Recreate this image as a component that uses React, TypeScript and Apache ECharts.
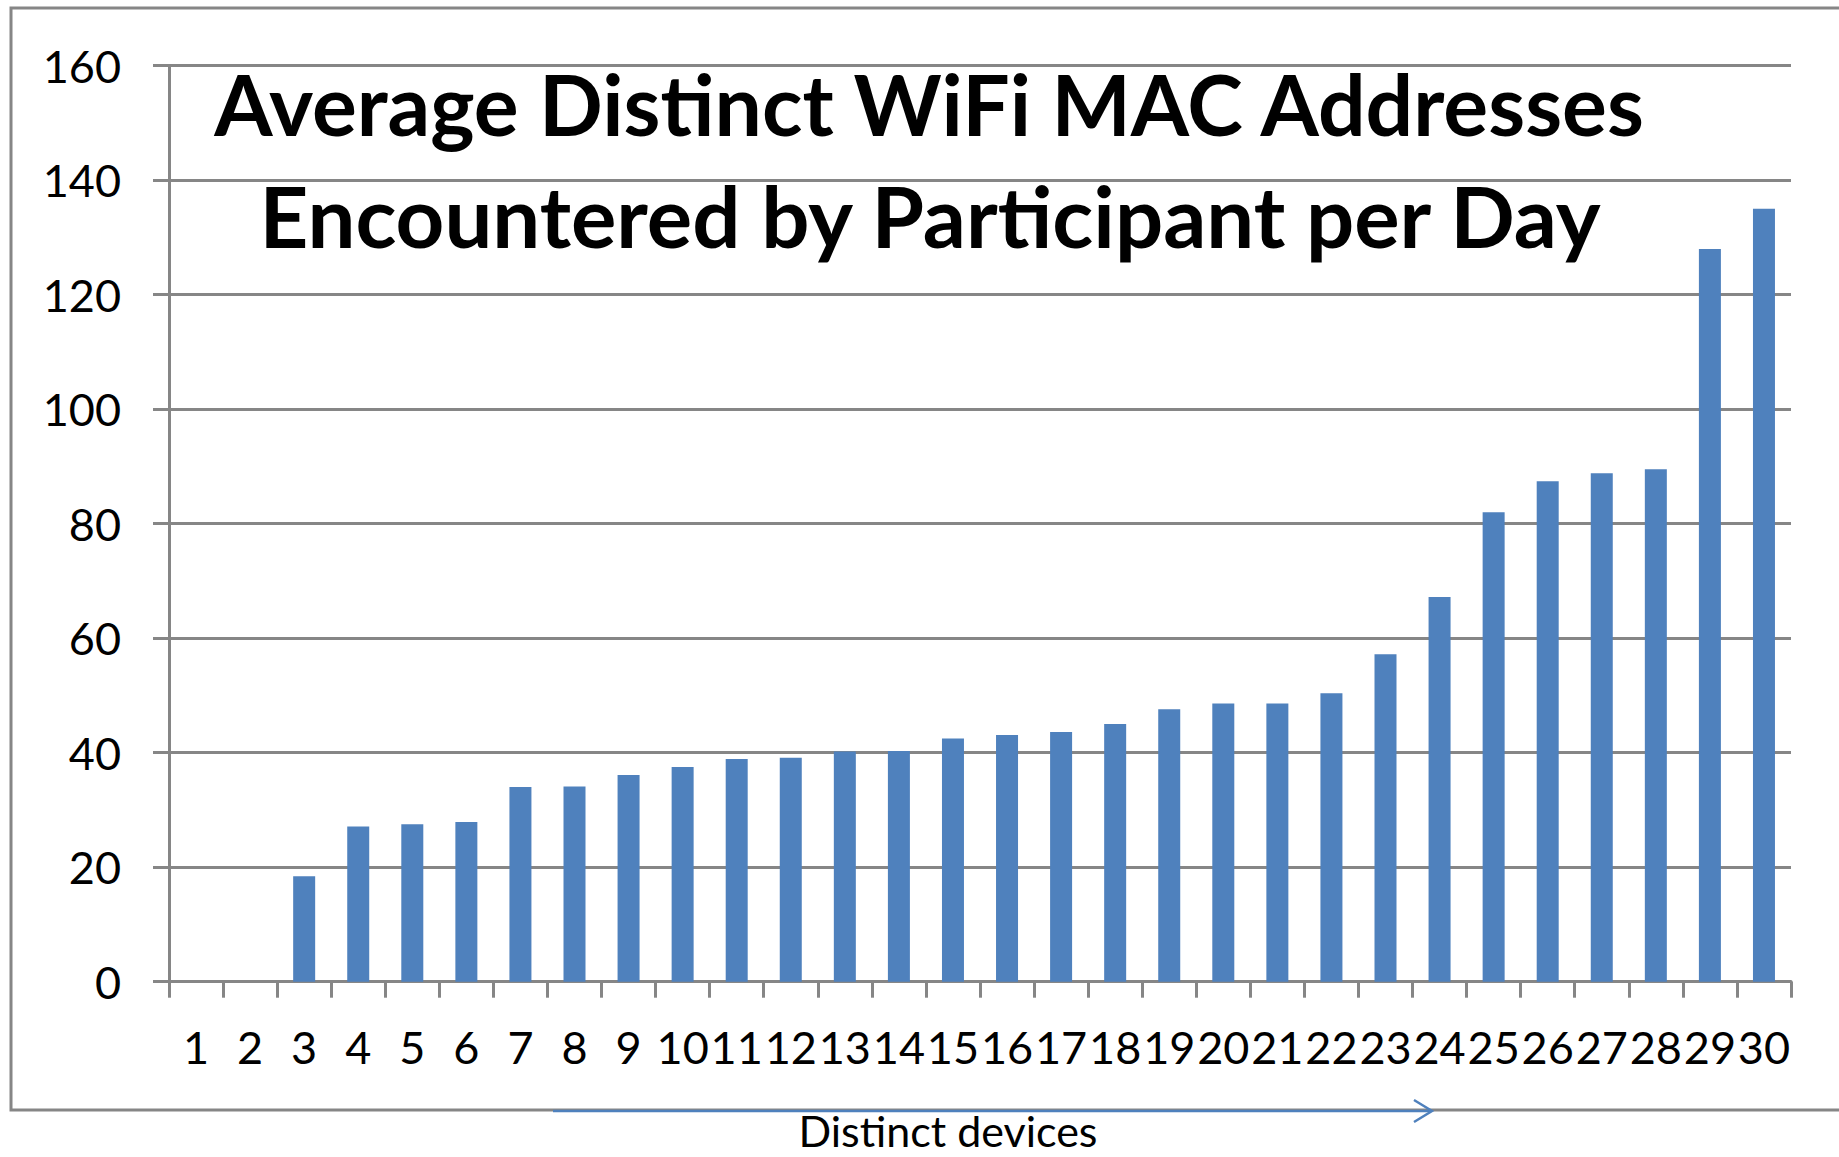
import React, { useEffect, useRef } from 'react';
import * as echarts from 'echarts';

const categories = ['1', '2', '3', '4', '5', '6', '7', '8', '9', '10', '11', '12', '13', '14', '15', '16', '17', '18', '19', '20', '21', '22', '23', '24', '25', '26', '27', '28', '29', '30'];
const values = [0, 0, 18.4, 27.1, 27.5, 27.9, 34.0, 34.1, 36.1, 37.5, 38.9, 39.1, 40.2, 40.3, 42.5, 43.1, 43.6, 45.0, 47.6, 48.6, 48.6, 50.4, 57.2, 67.2, 82.0, 87.4, 88.8, 89.5, 128.0, 135.0];
const yMin = 0;
const yMax = 160;
const yInterval = 20;
const titleLines = ['Average Distinct WiFi MAC Addresses', 'Encountered by Participant per Day'];
const xCaption = 'Distinct devices';

const GRAY = '#868686';
const BLUE = '#4F81BD';

export default function App() {
  const ref = useRef<HTMLDivElement>(null);
  useEffect(() => {
    document.body.style.margin = '0';
    const chart = echarts.init(ref.current!, null, { renderer: 'svg' });
    chart.setOption({
      animation: false,
      backgroundColor: '#ffffff',
      textStyle: { fontFamily: 'Lato' },
      grid: { left: 169, right: 48, top: 65.7, bottom: 175.3, containLabel: false },
      xAxis: {
        type: 'category',
        data: categories,
        boundaryGap: true,
        axisLine: { show: true, lineStyle: { color: GRAY, width: 3 } },
        axisTick: { show: true, length: 16, inside: false, alignWithLabel: false, lineStyle: { color: GRAY, width: 3 } },
        axisLabel: { interval: 0, margin: 43, color: '#000', fontSize: 45, fontFamily: 'Lato' },
        splitLine: { show: false },
      },
      yAxis: {
        type: 'value',
        min: yMin,
        max: yMax,
        interval: yInterval,
        axisLine: { show: true, lineStyle: { color: GRAY, width: 3 } },
        axisTick: { show: true, length: 16, inside: false, lineStyle: { color: GRAY, width: 3 } },
        axisLabel: { margin: 48, color: '#000', fontSize: 45, fontFamily: 'Lato' },
        splitLine: { show: true, lineStyle: { color: GRAY, width: 3 } },
      },
      series: [
        {
          type: 'bar',
          data: values,
          barWidth: 22,
          itemStyle: { color: BLUE },
        },
      ],
      graphic: [
        {
          type: 'rect',
          z: -10,
          shape: { x: 11, y: 8, width: 1900, height: 1102 },
          style: { fill: 'none', stroke: GRAY, lineWidth: 3 },
        },
        {
          type: 'line',
          z: 5,
          shape: { x1: 553, y1: 1111, x2: 1431, y2: 1111 },
          style: { stroke: BLUE, lineWidth: 2.5 },
        },
        {
          type: 'polyline',
          z: 5,
          shape: { points: [[1414, 1100], [1432, 1111], [1414, 1122]] },
          style: { stroke: BLUE, lineWidth: 2.5, fill: 'none' },
        },
        {
          type: 'text',
          z: 10,
          x: 948,
          y: 1130,
          style: { text: xCaption, fontSize: 43, lineHeight: 34, fontFamily: 'Lato', fill: '#000', align: 'center', verticalAlign: 'middle' },
        },
        {
          type: 'text',
          z: 10,
          x: 929,
          y: 103,
          style: { text: titleLines[0], fontSize: 84, fontWeight: 'bold', fontFamily: 'Lato', fill: '#000', align: 'center', verticalAlign: 'middle' },
        },
        {
          type: 'text',
          z: 10,
          x: 930,
          y: 215,
          style: { text: titleLines[1], fontSize: 85, fontWeight: 'bold', fontFamily: 'Lato', fill: '#000', align: 'center', verticalAlign: 'middle' },
        },
      ],
    });
    return () => chart.dispose();
  }, []);
  return <div ref={ref} style={{ width: 1839, height: 1157 }} />;
}
